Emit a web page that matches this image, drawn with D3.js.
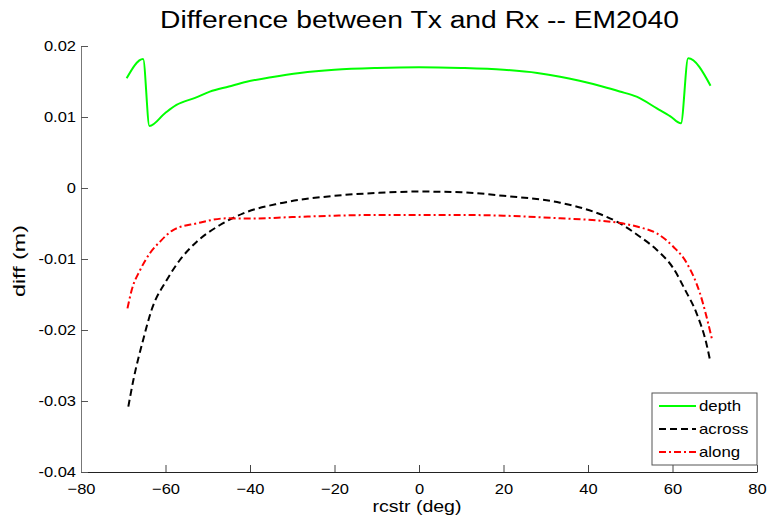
<!DOCTYPE html>
<html>
<head>
<meta charset="utf-8">
<script src="https://cdn.jsdelivr.net/npm/d3@7"></script>
<style>
    body { margin: 0; background: #fff; }
    svg { display: block; font-family: "Liberation Sans", Arial, sans-serif; }
</style>
</head>
<body>
<div id="chart"></div>
<script>
// 数据
const xTicks = [-80, -60, -40, -20, 0, 20, 40, 60, 80];
const yTicks = [-0.04, -0.03, -0.02, -0.01, 0, 0.01, 0.02];
const seriesNames = ["depth", "across", "along"];

const depthX = [-69.2, -65.3, -63.8, -60, -57.4, -53, -49.5, -45, -40.8, -35, -28.2, -20, -10, 0, 10, 20, 28, 33.4, 38, 43.6, 47.5, 51.5, 56.3, 59.5, 62.0, 63.7, 69.0];
const depthY = [0.01545, 0.01817, 0.00873, 0.0106, 0.0117, 0.0127, 0.01357, 0.0143, 0.01497, 0.0156, 0.0162, 0.01665, 0.0169, 0.0170, 0.0169, 0.01665, 0.0162, 0.01568, 0.0151, 0.01427, 0.0136, 0.01286, 0.01122, 0.0101, 0.00911, 0.01826, 0.01441];

const acrossX = [-68.8, -67.6, -65.3, -63.3, -59.7, -56.6, -52.6, -47.1, -41.6, -32.9, -20, -10, 0, 10, 20, 33.4, 41.3, 46.8, 52.3, 56.3, 60.2, 63.0, 65.7, 68.1, 68.9];
const acrossY = [-0.0308, -0.02704, -0.0214, -0.01718, -0.01296, -0.01014, -0.00756, -0.00521, -0.00357, -0.00216, -0.0011, -0.0007, -0.0005, -0.0006, -0.0011, -0.00207, -0.00334, -0.00474, -0.00686, -0.00873, -0.01131, -0.01437, -0.01765, -0.0221, -0.0243];

const alongX = [-69.0, -68.0, -66.0, -63.7, -61.3, -58.2, -52.6, -45.5, -40, -30, -20, -10, 0, 10, 20, 33.4, 43, 48.1, 52, 56.3, 60.2, 63.4, 66.5, 69.3];
const alongY = [-0.01695, -0.01437, -0.01155, -0.0092, -0.00756, -0.00592, -0.00498, -0.00427, -0.0043, -0.0041, -0.0039, -0.0038, -0.0038, -0.0038, -0.0039, -0.00427, -0.0046, -0.00498, -0.0055, -0.0064, -0.00827, -0.0106, -0.01483, -0.02117];

const W = 769, H = 519;
const margin = { top: 46, right: 12, bottom: 47, left: 81 };
const width = W - margin.left - margin.right;
const height = H - margin.top - margin.bottom;

const svgRoot = d3.select("#chart").append("svg")
    .attr("width", W)
    .attr("height", H);

const svg = svgRoot.append("g")
    .attr("transform", `translate(${margin.left},${margin.top})`);

// 原图文字略宽, 按比例拉伸
function widen(sel, k) {
    sel.each(function() {
        const len = this.getComputedTextLength();
        d3.select(this)
            .attr("textLength", len * k)
            .attr("lengthAdjust", "spacingAndGlyphs");
    });
}

// 比例尺
const x = d3.scaleLinear().domain([-80, 80]).range([0, width]);
const y = d3.scaleLinear().domain([-0.04, 0.02]).range([height, 0]);

// 坐标轴 (刻度朝内)
const fmtY = d => d === 0 ? "0" : String(+d.toFixed(2));
svg.append("g")
    .attr("transform", `translate(0,${height})`)
    .call(d3.axisBottom(x).tickValues(xTicks).tickSizeInner(-7).tickSizeOuter(0).tickPadding(11))
    .call(g => g.select(".domain").attr("stroke", "#222"))
    .call(g => g.selectAll(".tick line").attr("stroke", "#444"))
    .call(g => g.selectAll("text").attr("font-size", 15).attr("fill", "#000").attr("font-family", "Liberation Sans, Arial, sans-serif"))
    .call(g => widen(g.selectAll("text"), 1.1));

svg.append("g")
    .call(d3.axisLeft(y).tickValues(yTicks).tickFormat(fmtY).tickSizeInner(-7).tickSizeOuter(0).tickPadding(5))
    .call(g => g.select(".domain").attr("stroke", "#777"))
    .call(g => g.selectAll(".tick line").attr("stroke", "#555"))
    .call(g => g.selectAll("text").attr("font-size", 15).attr("fill", "#000").attr("font-family", "Liberation Sans, Arial, sans-serif"))
    .call(g => widen(g.selectAll("text"), 1.1));

// 曲线
const line = d3.line()
    .x(d => x(d[0]))
    .y(d => y(d[1]))
    .curve(d3.curveMonotoneX);

const series = [
    { xs: depthX, ys: depthY, color: "#00ff00", dash: null },
    { xs: acrossX, ys: acrossY, color: "#000000", dash: "7,4" },
    { xs: alongX, ys: alongY, color: "#ff0000", dash: "7,3,2,3" }
];

series.forEach(s => {
    svg.append("path")
        .datum(d3.zip(s.xs, s.ys))
        .attr("fill", "none")
        .attr("stroke", s.color)
        .attr("stroke-width", 2)
        .attr("stroke-dasharray", s.dash)
        .attr("d", line);
});

// 标题与轴标签
svgRoot.append("text")
    .attr("x", 419.5)
    .attr("y", 28)
    .attr("text-anchor", "middle")
    .attr("font-size", 23)
    .attr("textLength", 519)
    .attr("lengthAdjust", "spacingAndGlyphs")
    .text("Difference between Tx and Rx -- EM2040");

svgRoot.append("text")
    .attr("x", 417)
    .attr("y", 512)
    .attr("text-anchor", "middle")
    .attr("font-size", 16)
    .attr("textLength", 89)
    .attr("lengthAdjust", "spacingAndGlyphs")
    .text("rcstr (deg)");

svgRoot.append("text")
    .attr("transform", `translate(25,261) rotate(-90)`)
    .attr("text-anchor", "middle")
    .attr("font-size", 16)
    .attr("textLength", 72)
    .attr("lengthAdjust", "spacingAndGlyphs")
    .text("diff (m)");

// 图例
const legend = svgRoot.append("g").attr("transform", "translate(652,393)");
legend.append("rect")
    .attr("width", 105)
    .attr("height", 72)
    .attr("fill", "#fff")
    .attr("stroke", "#555");

seriesNames.forEach((name, i) => {
    const s = series[i];
    const ly = 13 + i * 23;
    legend.append("line")
        .attr("x1", 7).attr("x2", 44)
        .attr("y1", ly).attr("y2", ly)
        .attr("stroke", s.color)
        .attr("stroke-width", 2)
        .attr("stroke-dasharray", s.dash);
    legend.append("text")
        .attr("x", 47)
        .attr("y", ly + 5)
        .attr("font-size", 15)
        .text(name)
        .call(t => widen(t, 1.12));
});
</script>
</body>
</html>
